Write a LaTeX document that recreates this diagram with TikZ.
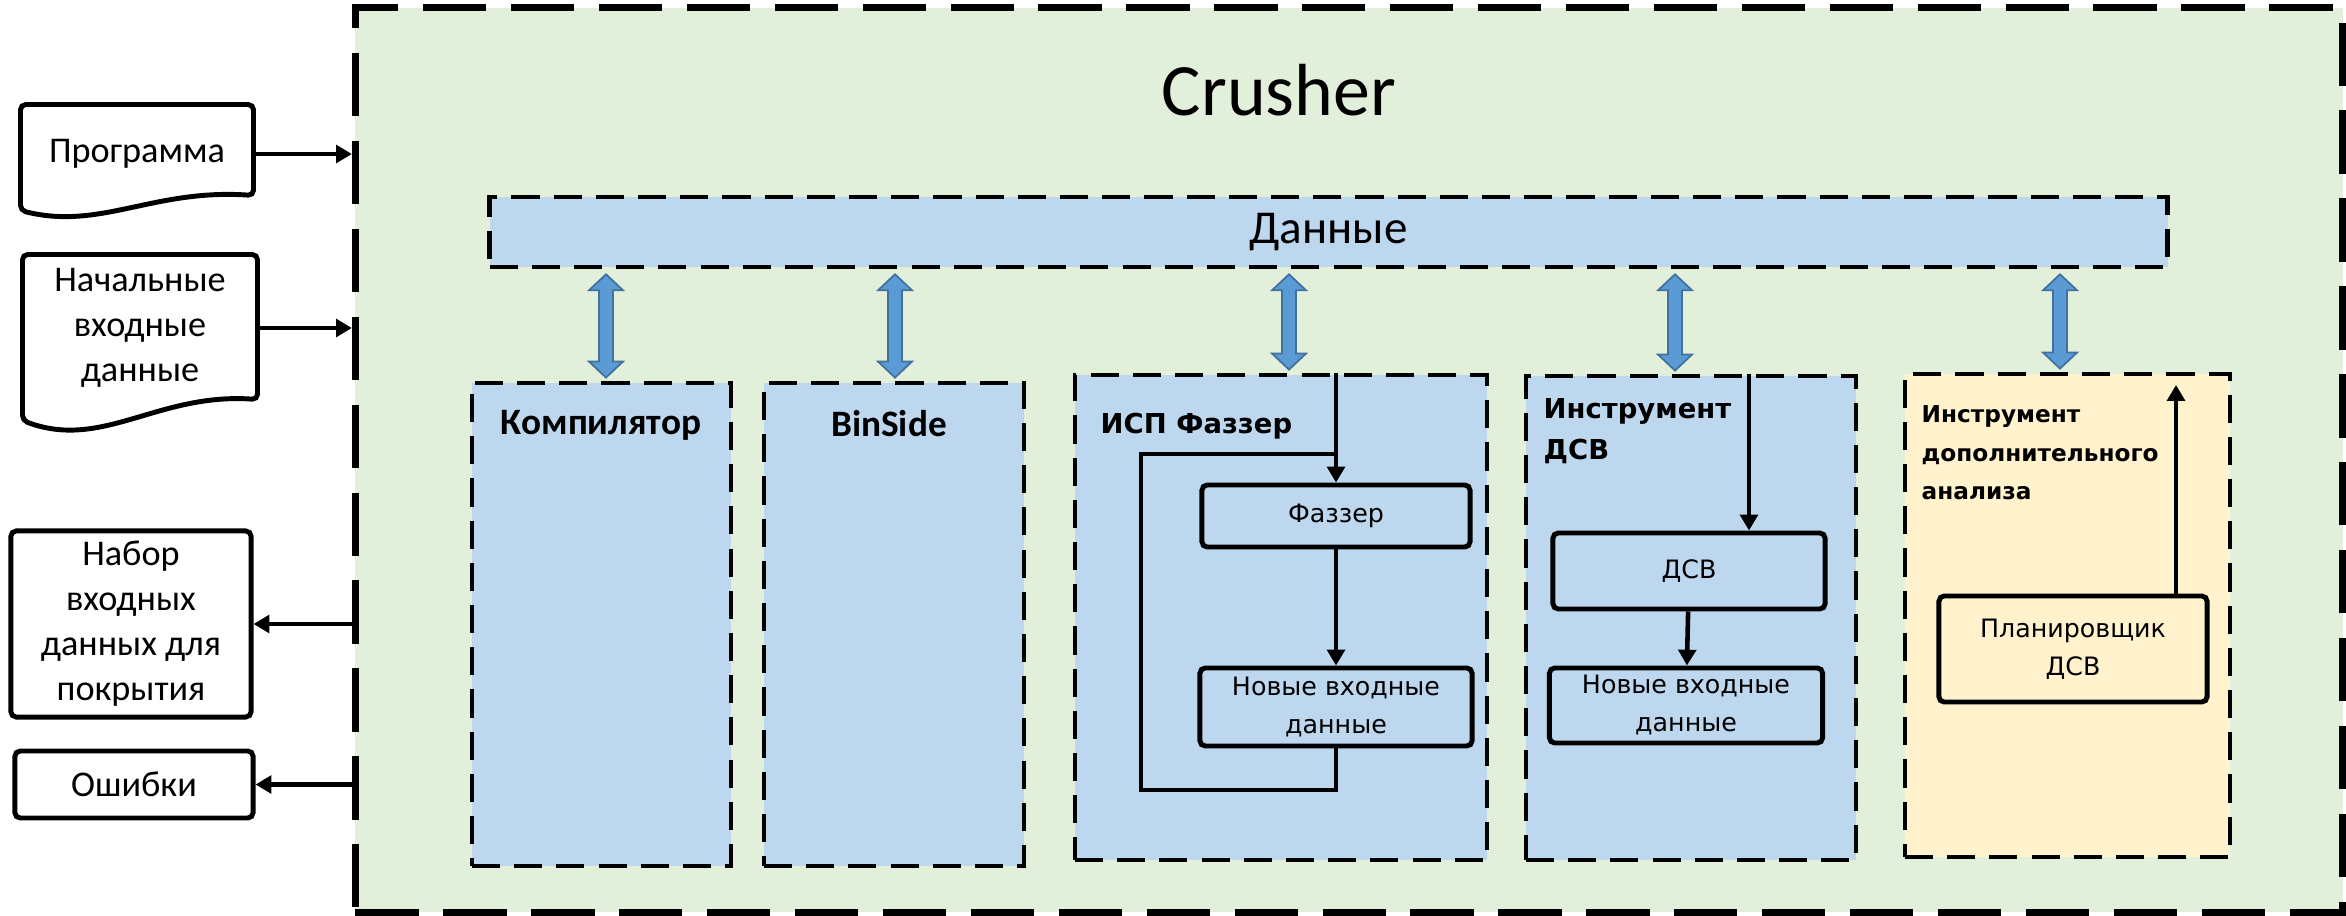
\documentclass[tikz,border=0pt]{standalone}
\usepackage{fontspec}
\setmainfont{Carlito}
\newfontfamily\verdfont{DejaVu Sans}
\usepackage{tikz}
\usetikzlibrary{arrows.meta, positioning, calc}
\definecolor{crushgreen}{RGB}{226,239,218}
\definecolor{toolblue}{RGB}{189,215,238}
\definecolor{extrayellow}{RGB}{255,242,204}
\definecolor{arrowblue}{RGB}{91,155,213}
\definecolor{arrowedge}{RGB}{65,113,156}
\tikzstyle{crusherbox} = [rectangle, fill=crushgreen, draw=black,
line width=2pt, dash pattern=on 18pt off 7pt,
minimum width=19.86cm, minimum height=9.035cm]
\tikzstyle{toolbox} = [rectangle, fill=toolblue, draw=black,
line width=1.3pt, dash pattern=on 8pt off 4pt, inner sep=0pt]
\tikzstyle{extrabox} = [toolbox, fill=extrayellow]
\tikzstyle{innerbox} = [rectangle, rounded corners=1.5pt, draw=black,
line width=1.4pt, align=center, inner sep=0pt,
font=\verdfont\fontsize{7.2}{10.8}\selectfont]
\tikzstyle{outbox} = [rectangle, rounded corners=1.5pt, draw=black,
line width=1.4pt, align=center, inner sep=0pt,
font=\fontsize{10.3}{12.8}\selectfont]
\tikzstyle{docnode} = [outbox, draw=none]
\tikzstyle{docline} = [draw=black, line width=1.4pt, rounded corners=1.5pt]
\tikzstyle{headlabel} = [font=\bfseries\fontsize{10.6}{12}\selectfont, inner sep=0pt]
\tikzstyle{toollabel} = [font=\verdfont\bfseries\fontsize{7.8}{11.7}\selectfont,
align=left, inner sep=0pt]
\tikzstyle{extratitle} = [font=\verdfont\bfseries\fontsize{6.6}{11}\selectfont,
align=left, inner sep=0pt]
\tikzstyle{arrow} = [-{Triangle[length=4.5pt, width=5pt]}, line width=1.3pt, draw=black]
\tikzstyle{flowline} = [line width=1.3pt, draw=black]
\tikzstyle{blockarrow} = [fill=arrowblue, draw=arrowedge, line width=0.5pt]
% fat two-headed arrow between the data bar and a tool box
\newcommand{\dataarrow}[2]{%
  \coordinate (arrtop) at ($(data.south -| #1.north)+(#2,5)$);
  \coordinate (arrbot) at ($(#1.north)+(#2,-3)$);
  \filldraw[blockarrow] (arrtop) -- ++(17,16) -- ++(-10,0)
    -- ($(arrbot)+(7,-16)$) -- ++(10,0) -- (arrbot) -- ++(-17,-16)
    -- ++(10,0) -- ($(arrtop)+(-7,16)$) -- ++(-10,0) -- cycle;}
% document outline with a wavy bottom
\newcommand{\docshape}[4]{%
  \draw[docline] (#1.north west) -- (#1.north east)
    -- ($(#1.south east)+(0,-#2)$) .. controls +(-100,-7) and +(80,#4) ..
    ($(#1.south west)+(0,#3)$) -- cycle;}

\begin{document}
\begin{tikzpicture}[x=0.01cm, y=-0.01cm]
    \useasboundingbox (0,0) rectangle (2346,916);
    \node (crusher) [crusherbox] at (1349,460) {};
    \node (title) [font=\fontsize{21}{25}\selectfont] at (1279,90) {Crusher};
    \node (data) [toolbox, minimum width=16.77cm, minimum height=0.70cm,
    font=\fontsize{13.4}{16}\selectfont] at (1328.5,232) {Данные};

    % tools
    \node (comp) [toolbox, minimum width=2.59cm, minimum height=4.83cm] at (601.5,624.5) {};
    \node (bins) [toolbox, minimum width=2.60cm, minimum height=4.83cm] at (894,624.5) {};
    \node (isp) [toolbox, minimum width=4.12cm, minimum height=4.85cm] at (1281,617.5) {};
    \node (dsvtool) [toolbox, minimum width=3.30cm, minimum height=4.84cm] at (1691,618) {};
    \node (extra) [extrabox, minimum width=3.25cm, minimum height=4.83cm] at (2067.5,615.5) {};

    \node (complabel) [headlabel, anchor=base] at (601,435) {Компилятор};
    \node (binslabel) [headlabel, anchor=base] at (889,437) {BinSide};
    \node (isplabel) [toollabel, anchor=base west] at (1100,434) {ИСП Фаззер};
    \node (dsvlabel) [toollabel, anchor=base west] at (1543,460) {Инструмент\\ДСВ};
    \node (extralabel) [extratitle, anchor=base west] at (1921,500)
    {Инструмент\\дополнительного\\анализа};

    \dataarrow{comp}{4.5}
    \dataarrow{bins}{1}
    \dataarrow{isp}{8}
    \dataarrow{dsvtool}{-16}
    \dataarrow{extra}{-7.5}

    % fuzzer loop
    \node (fuzz) [innerbox, minimum width=2.68cm, minimum height=0.62cm] at (1336,516) {Фаззер};
    \node (newisp) [innerbox, minimum width=2.72cm, minimum height=0.78cm] at (1336,707)
    {Новые входные\\данные};
    \coordinate (loopcorner) at (1141,790);
    \coordinate (loopjoin) at (1336,454);
    \draw[arrow] (fuzz.north |- isp.north) -- (fuzz.north);
    \draw[arrow] (fuzz) -- (newisp);
    \draw[flowline] (newisp.south) |- (loopcorner) |- (loopjoin);

    % dsv
    \node (dsv) [innerbox, minimum width=2.72cm, minimum height=0.76cm] at (1689,571) {ДСВ};
    \node (newdsv) [innerbox, minimum width=2.73cm, minimum height=0.75cm] at (1686,705.5)
    {Новые входные\\данные};
    \coordinate (dsvin) at (1749,0);
    \draw[arrow] (dsvin |- dsvtool.north) -- (dsvin |- dsv.north);
    \draw[arrow] (dsv) -- (newdsv);

    \node (plan) [innerbox, minimum width=2.68cm, minimum height=1.06cm] at (2073,649)
    {Планировщик\\ДСВ};
    \coordinate (planout) at (2176,385);
    \draw[arrow] (planout |- plan.north) -- (planout);

    % inputs and outputs
    \node (prog) [docnode, minimum width=2.28cm, minimum height=0.94cm] at (137,154) {Программа};
    \docshape{prog}{8}{7}{20}
    \node (initdata) [docnode, minimum width=2.30cm, minimum height=1.42cm] at (140,328)
    {Начальные\\входные\\данные};
    \docshape{initdata}{2}{19}{30}
    \node (cover) [outbox, minimum width=2.40cm, minimum height=1.86cm] at (131,624)
    {Набор\\входных\\данных для\\покрытия};
    \node (errors) [outbox, minimum width=2.38cm, minimum height=0.67cm] at (134,784.5) {Ошибки};

    \draw[arrow] (prog.east) -- (prog.east -| crusher.west);
    \draw[arrow] (initdata.east) -- (initdata.east -| crusher.west);
    \draw[arrow] (cover.east -| crusher.west) -- (cover.east);
    \draw[arrow] (errors.east -| crusher.west) -- (errors.east);
\end{tikzpicture}
\end{document}
